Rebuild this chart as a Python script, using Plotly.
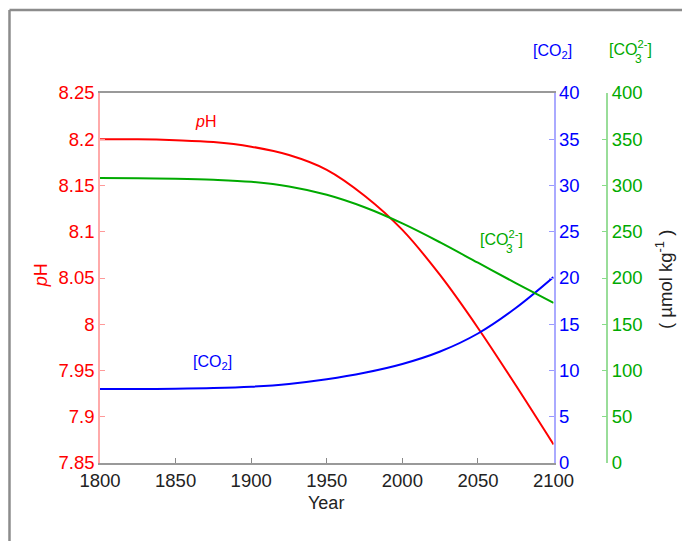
import plotly.graph_objects as go

years = [1800, 1825, 1850, 1875, 1900, 1925, 1950, 1975, 2000, 2025, 2050, 2075, 2100]
ph = [8.200, 8.200, 8.199, 8.197, 8.192, 8.183, 8.167, 8.139, 8.102, 8.053, 7.996, 7.934, 7.870]
co2 = [8.0, 8.0, 8.03, 8.1, 8.25, 8.55, 9.05, 9.75, 10.7, 12.05, 14.0, 16.75, 20.1]
co3 = [308, 307.8, 307.3, 306.2, 304, 299, 290, 276.5, 259, 238.5, 216.5, 194.5, 173]

ph_ticks = [7.85, 7.9, 7.95, 8.0, 8.05, 8.1, 8.15, 8.2, 8.25]
ph_ticktext = ["7.85", "7.9", "7.95", "8", "8.05", "8.1", "8.15", "8.2", "8.25"]
co2_ticks = [0, 5, 10, 15, 20, 25, 30, 35, 40]
co3_ticks = [0, 50, 100, 150, 200, 250, 300, 350, 400]
year_ticks = [1800, 1850, 1900, 1950, 2000, 2050, 2100]

RED = "#ff0000"
BLUE = "#0000ff"
GREEN = "#00aa00"
FONT = "Liberation Sans, Arial, sans-serif"
TF = 18.5

OFF = 8  # page body margin
W, H = 690 - OFF, 541 - OFF
L, T, B, R = 100 - OFF, 93 - OFF, 78, 30
PW = W - L - R
PH_ = H - T - B
xd = 456 / PW


def px(xr):
    # reference-pixel x -> paper
    return (xr - OFF - L) / PW


def py(yr):
    return (H - B - (yr - OFF)) / PH_


fig = go.Figure()
fig.add_trace(go.Scatter(x=years, y=ph, mode="lines", line=dict(color=RED, width=2, shape="spline"),
                         yaxis="y", showlegend=False))
fig.add_trace(go.Scatter(x=years, y=co2, mode="lines", line=dict(color=BLUE, width=2, shape="spline"),
                         yaxis="y2", showlegend=False))
fig.add_trace(go.Scatter(x=years, y=co3, mode="lines", line=dict(color=GREEN, width=2, shape="spline"),
                         yaxis="y3", showlegend=False))

fig.update_layout(
    width=W, height=H,
    margin=dict(l=L, r=R, t=T, b=B),
    paper_bgcolor="white", plot_bgcolor="white",
    font=dict(family=FONT, size=TF),
    xaxis=dict(domain=[0, xd], range=[1800, 2100], tickvals=year_ticks, ticks="inside", ticklen=5,
               tickcolor="#888888", showline=True, linecolor="#999999", linewidth=1.5, mirror=True,
               showgrid=False, zeroline=False, tickfont=dict(color="#222222", size=TF)),
    yaxis=dict(range=[7.85, 8.25], tickvals=ph_ticks, ticktext=ph_ticktext, ticks="inside", ticklen=5,
               tickcolor="#ff9999", showline=True, linecolor="#ffaaaa", linewidth=1.5,
               showgrid=False, zeroline=False, tickfont=dict(color=RED, size=TF)),
    yaxis2=dict(range=[0, 40], tickvals=co2_ticks, overlaying="y", side="right", anchor="x",
                ticks="inside", ticklen=5, tickcolor="#9999ff", showline=True, linecolor="#aaaaff",
                linewidth=1.5, showgrid=False, zeroline=False, tickfont=dict(color=BLUE, size=TF)),
    yaxis3=dict(range=[0, 400], tickvals=co3_ticks, overlaying="y", side="right", anchor="free",
                position=px(610), ticks="inside", ticklen=5, tickcolor="#88dd88", showline=True,
                linecolor="#99dd99", linewidth=1.5, showgrid=False, zeroline=False,
                tickfont=dict(color=GREEN, size=TF)),
)

ann = [
    dict(x=327, y=503, text="Year", color="#222222", angle=0, size=18),
    dict(x=41, y=275, text="<i>p</i>H", color=RED, angle=-90, size=18),
    dict(x=206, y=121, text="<i>p</i>H", color=RED, angle=0, size=16),
    dict(x=213, y=362, text="[CO<sub>2</sub>]", color=BLUE, angle=0, size=16),
    dict(x=504, y=238, text="[CO<sup>2-</sup>]", color=GREEN, angle=0, size=16),
    dict(x=512, y=249, text="3", color=GREEN, angle=0, size=12),
    dict(x=555, y=51, text="[CO<sub>2</sub>]", color=BLUE, angle=0, size=16),
    dict(x=633, y=48, text="[CO<sup>2-</sup>]", color=GREEN, angle=0, size=16),
    dict(x=641, y=59, text="3", color=GREEN, angle=0, size=12),
    dict(x=667, y=279, text="( \u00b5mol kg<sup>-1</sup> )", color="#222222", angle=-90, size=18.5),
]
for a in ann:
    fig.add_annotation(x=px(a["x"]), y=py(a["y"]), xref="paper", yref="paper", text=a["text"],
                       showarrow=False, textangle=a["angle"], xanchor="center", yanchor="middle",
                       font=dict(color=a["color"], size=a["size"], family=FONT))

# outer frame (top and left edges visible)
fig.add_shape(type="line", xref="paper", yref="paper", x0=px(9), x1=px(700), y0=py(10), y1=py(10),
              line=dict(color="#8c8c8c", width=2.5))
fig.add_shape(type="line", xref="paper", yref="paper", x0=px(9), x1=px(9), y0=py(10), y1=py(560),
              line=dict(color="#8c8c8c", width=2.5))

fig.write_html("out.html")
